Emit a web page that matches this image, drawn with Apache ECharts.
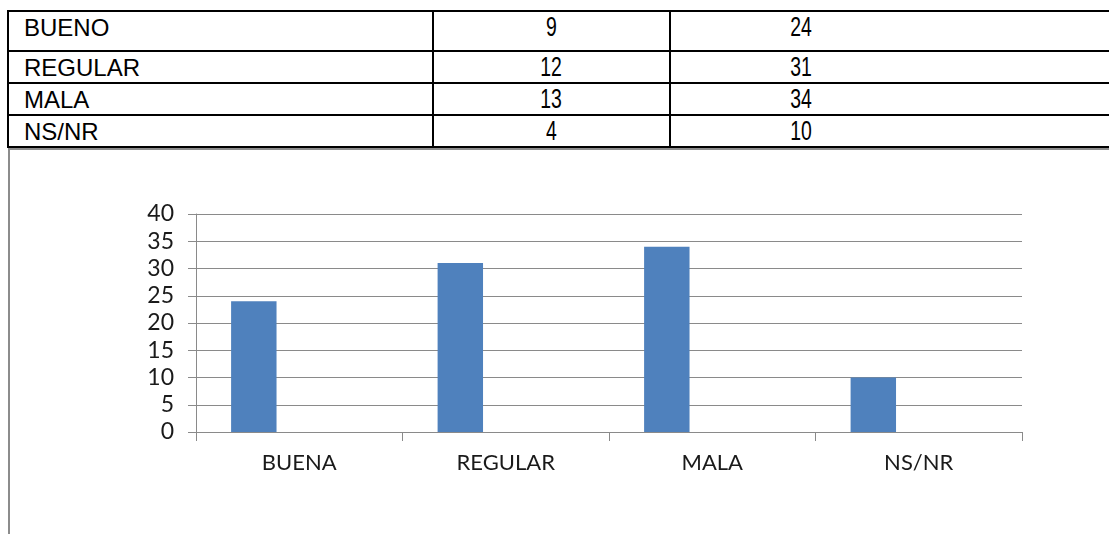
<!DOCTYPE html>
<html>
<head>
<meta charset="utf-8">
<script src="https://cdn.jsdelivr.net/npm/echarts@6/dist/echarts.min.js"></script>
<style>
  html, body {
    margin: 0;
    padding: 0;
    width: 1109px;
    height: 534px;
    overflow: hidden;
    background: #fff;
  }
  .data-table {
    position: absolute;
    left: 7px;
    top: 10px;
    width: 1124px;
    border-collapse: collapse;
    font-family: "Liberation Sans", Arial, sans-serif;
    font-size: 24px;
    color: #000;
    table-layout: fixed;
  }
  .data-table td {
    border-top: 2px solid #000;
    border-bottom: 2px solid #000;
    border-left: 2px solid #000;
    padding: 0;
    line-height: 25px;
    vertical-align: top;
    white-space: nowrap;
  }
  .data-table td.label { padding-left: 15px; }
  .data-table td.num { text-align: center; }
  .data-table td.filler { border-left: none; }
  .data-table tr.first td { height: 35px; padding-top: 3px; }
  .data-table tr.rest td { height: 27px; padding-top: 3px; }
  .narrow {
    display: inline-block;
    font-size: 27px;
    line-height: 25px;
    transform: scaleX(0.72);
  }
  .chart-frame {
    position: absolute;
    left: 8px;
    top: 148px;
    width: 1110px;
    height: 400px;
    border-top: 2px solid #8c8c8c;
    border-left: 2px solid #8c8c8c;
    box-sizing: border-box;
  }
  #chart {
    position: absolute;
    left: 10px;
    top: 150px;
    width: 1099px;
    height: 384px;
  }
</style>
</head>
<body>
<table class="data-table" id="table"></table>
<div class="chart-frame"></div>
<div id="chart"></div>
<script>
// table rows
const tableLabels = ["BUENO", "REGULAR", "MALA", "NS/NR"]
const counts = [9, 12, 13, 4]
const percents = [24, 31, 34, 10]

// chart
const chartCategories = ["BUENA", "REGULAR", "MALA", "NS/NR"]
const chartValues = [24, 31, 34, 10]
const emptySeriesA = ["-", "-", "-", "-"]
const emptySeriesB = ["-", "-", "-", "-"]
const yMin = 0
const yMax = 40
const yStep = 5

const buildTable = () => {
  const table = document.getElementById("table")
  const colgroup = document.createElement("colgroup")
  ;[425, 237, 262, 200].forEach((w) => {
    const col = document.createElement("col")
    col.style.width = w + "px"
    colgroup.appendChild(col)
  })
  table.appendChild(colgroup)
  tableLabels.forEach((label, i) => {
    const tr = document.createElement("tr")
    tr.className = i === 0 ? "first" : "rest"
    tr.innerHTML =
      '<td class="label">' + label + "</td>" +
      '<td class="num"><span class="narrow">' + counts[i] + "</span></td>" +
      '<td class="num"><span class="narrow">' + percents[i] + "</span></td>" +
      '<td class="filler"></td>'
    table.appendChild(tr)
  })
}

buildTable()

const axisGray = "#8a8a8a"
const chart = echarts.init(document.getElementById("chart"))

const option = {
  backgroundColor: "transparent",
  animation: false,
  grid: {
    left: 186,
    top: 64,
    width: 826,
    height: 218
  },
  xAxis: {
    type: "category",
    data: chartCategories,
    axisLine: { lineStyle: { color: axisGray, width: 1 } },
    axisTick: { show: true, length: 9, lineStyle: { color: axisGray } },
    axisLabel: {
      margin: 20,
      fontFamily: "Lato",
      fontSize: 22,
      color: "#1a1a1a"
    },
    splitLine: { show: false }
  },
  yAxis: {
    type: "value",
    min: yMin,
    max: yMax,
    interval: yStep,
    axisLine: { show: true, lineStyle: { color: axisGray, width: 1 } },
    axisTick: { show: true, length: 8, lineStyle: { color: axisGray } },
    axisLabel: {
      margin: 22,
      fontFamily: "Lato",
      fontSize: 23,
      color: "#1a1a1a"
    },
    splitLine: { show: true, lineStyle: { color: axisGray, width: 1 } }
  },
  series: [
    {
      type: "bar",
      data: chartValues,
      barGap: "0%",
      barCategoryGap: "34%",
      itemStyle: { color: "#4f81bd" }
    },
    {
      type: "bar",
      data: emptySeriesA,
      barGap: "0%",
      barCategoryGap: "34%",
      itemStyle: { color: "#c0504d" }
    },
    {
      type: "bar",
      data: emptySeriesB,
      barGap: "0%",
      barCategoryGap: "34%",
      itemStyle: { color: "#9bbb59" }
    }
  ]
}

chart.setOption(option)
</script>
</body>
</html>
